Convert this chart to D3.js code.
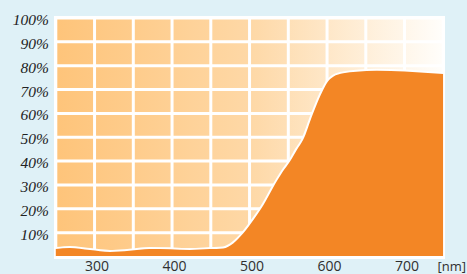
<!DOCTYPE html>
<html>
<head>
<meta charset="utf-8">
<script src="https://cdn.jsdelivr.net/npm/d3@7"></script>
<style>
  html, body { margin: 0; padding: 0; background: #dff1f7; }
  svg { display: block; }
</style>
</head>
<body>
<div id="chart"></div>
<script>
// wavelength [nm] and transmission [%]
const wavelengths = [250, 268, 294, 320, 345, 371, 397, 423, 449, 466, 479, 492, 505, 518, 530, 543, 552, 561, 569, 582, 595, 601, 608, 621, 638, 664, 700, 750]
const transmission = [3.1, 3.6, 2.7, 1.9, 2.4, 3.1, 3.0, 2.7, 3.1, 3.4, 5.5, 9.7, 15.3, 21.6, 28.6, 35.6, 39.7, 44.7, 48.8, 60, 69.8, 73.3, 75.4, 76.8, 77.5, 77.9, 77.6, 76.5]
const xTicks = [300, 400, 500, 600, 700]
const yTicks = [10, 20, 30, 40, 50, 60, 70, 80, 90, 100]
const xGrid = d3.range(250, 751, 50)
const yGrid = d3.range(0, 101, 10)

const width = 467, height = 274

const svg = d3.select("#chart")
  .append("svg")
    .attr("width", width)
    .attr("height", height)

const x = d3.scaleLinear().domain([250, 750]).range([55.8, 443.3])
const y = d3.scaleLinear().domain([0, 100]).range([256.5, 18])

// gradient for the plot background
const grad = svg.append("defs").append("linearGradient")
    .attr("id", "bgGrad")
    .attr("x1", "0%").attr("x2", "100%").attr("y1", "0%").attr("y2", "0%")
grad.append("stop").attr("offset", "0%").attr("stop-color", "#fec47a")
grad.append("stop").attr("offset", "50%").attr("stop-color", "#fed8a6")
grad.append("stop").attr("offset", "100%").attr("stop-color", "#fffefb")

// white frame
svg.append("rect")
    .attr("x", x(250) - 1.8).attr("y", y(100) - 2)
    .attr("width", x(750) - x(250) + 3.5).attr("height", y(0) - y(100) + 4.5)
    .attr("fill", "#ffffff")

svg.append("rect")
    .attr("x", x(250)).attr("y", y(100))
    .attr("width", x(750) - x(250)).attr("height", y(0) - y(100))
    .attr("fill", "url(#bgGrad)")

// grid lines
svg.append("g")
  .selectAll("line")
  .data(xGrid)
  .join("line")
    .attr("x1", d => x(d)).attr("x2", d => x(d))
    .attr("y1", y(100)).attr("y2", y(0))
    .attr("stroke", "#ffffff")
    .attr("stroke-width", 3)

svg.append("g")
  .selectAll("line")
  .data(yGrid)
  .join("line")
    .attr("x1", x(250)).attr("x2", x(750))
    .attr("y1", d => y(d)).attr("y2", d => y(d))
    .attr("stroke", "#ffffff")
    .attr("stroke-width", 3)

// transmission area
const data = wavelengths.map((w, i) => ({w: w, v: transmission[i]}))

const area = d3.area()
    .x(d => x(d.w))
    .y0(y(0) - 0.5)
    .y1(d => y(d.v))
    .curve(d3.curveMonotoneX)

const line = d3.line()
    .x(d => x(d.w))
    .y(d => y(d.v))
    .curve(d3.curveMonotoneX)

svg.append("path")
    .datum(data)
    .attr("d", line)
    .attr("fill", "none")
    .attr("stroke", "#ffffff")
    .attr("stroke-width", 4)

svg.append("path")
    .datum(data)
    .attr("d", area)
    .attr("fill", "#f38625")

// right edge of frame over the area
svg.append("line")
    .attr("x1", x(750) + 0.6).attr("x2", x(750) + 0.6)
    .attr("y1", y(100) - 2).attr("y2", y(0) + 2.5)
    .attr("stroke", "#ffffff")
    .attr("stroke-width", 1.4)

// y labels
svg.append("g")
  .selectAll("text")
  .data(yTicks)
  .join("text")
    .attr("x", 49)
    .attr("y", d => y(d) + 7)
    .attr("text-anchor", "end")
    .style("font-family", "'Liberation Serif', serif")
    .style("font-style", "italic")
    .style("font-size", "15.5px")
    .attr("fill", "#222222")
    .text(d => d + "%")

// x labels
svg.append("g")
  .selectAll("text")
  .data(xTicks)
  .join("text")
    .attr("x", d => x(d) + 2.5)
    .attr("y", 271)
    .attr("text-anchor", "middle")
    .style("font-family", "'Open Sans', sans-serif")
    .style("font-size", "14px")
    .attr("fill", "#2f2f2f")
    .text(d => d)

svg.append("text")
    .attr("x", 437.5)
    .attr("y", 271)
    .style("font-family", "'Open Sans', sans-serif")
    .style("font-size", "13px")
    .attr("fill", "#2f2f2f")
    .text("[nm]")
</script>
</body>
</html>
